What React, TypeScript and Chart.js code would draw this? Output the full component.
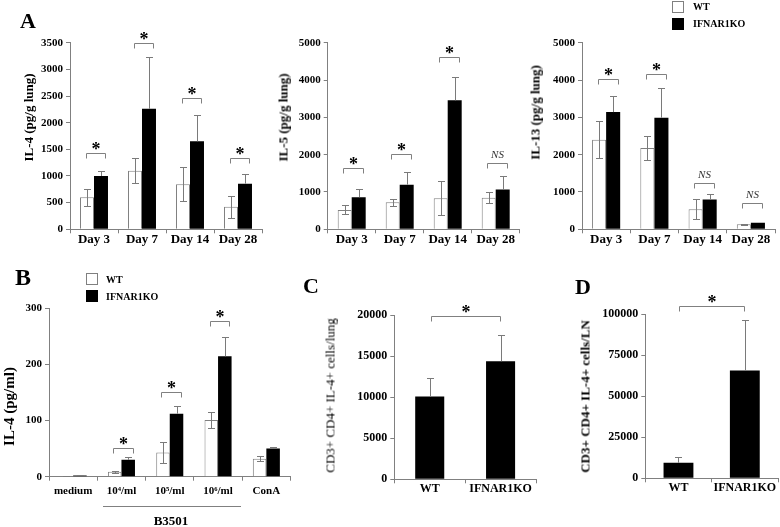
import React, { useEffect, useRef } from 'react';
import { Chart, registerables } from 'chart.js';

Chart.register(...registerables);

const FONT = "'Liberation Serif', 'Times New Roman', serif";
const AXIS = '#808080';
const ERRC = '#7a7a7a';
const W = 780;
const H = 527;

// ---------- Panel A ----------
const dayLabels = ['Day 3', 'Day 7', 'Day 14', 'Day 28'];

const il4WT = [600, 1100, 845, 425];
const il4WTErr = [165, 230, 320, 205];
const il4KO = [1000, 2260, 1650, 856];
const il4KOErr = [85, 975, 490, 175];
const il4Sig = ['*', '*', '*', '*'];
const il4SigAt = [1440, 3500, 2460, 1330];
const il4Max = 3500;
const il4Step = 500;

const il5WT = [518, 723, 830, 848];
const il5WTErr = [120, 90, 460, 145];
const il5KO = [860, 1196, 3455, 1065];
const il5KOErr = [210, 340, 625, 350];
const il5Sig = ['*', '*', '*', 'NS'];
const il5SigAt = [1650, 2030, 4610, 1770];
const il5Max = 5000;
const il5Step = 1000;

const il13WT = [2400, 2180, 536, 135];
const il13WTErr = [490, 330, 270, 20];
const il13KO = [3140, 2990, 800, 175];
const il13KOErr = [440, 790, 135, 0];
const il13Sig = ['*', '*', 'NS', 'NS'];
const il13SigAt = [4020, 4160, 1230, 700];
const il13Max = 5000;
const il13Step = 1000;

// ---------- Panel B ----------
const bLabels = ['medium', '10\u2074/ml', '10\u2075/ml', '10\u2076/ml', 'ConA'];
const bWT = [1, 9, 43, 101, 32];
const bWTErr = [0.5, 2, 19, 14, 4];
const bKO = [2, 30, 112, 214, 50];
const bKOErr = [0.5, 5, 13, 35, 3];
const bSig = ['', '*', '*', '*', ''];
const bSigAt = [0, 51, 150, 276, 0];
const bMax = 300;
const bStep = 100;

// ---------- Panel C ----------
const cLabels = ['WT', 'IFNAR1KO'];
const cVals = [10100, 14400];
const cErr = [2300, 3150];
const cSig = '*';
const cSigAt = 19900;
const cMax = 20000;
const cStep = 5000;

// ---------- Panel D ----------
const dLabels = ['WT', 'IFNAR1KO'];
const dVals = [9500, 65800];
const dErr = [3700, 30700];
const dSig = '*';
const dSigAt = 105000;
const dMax = 100000;
const dStep = 25000;

type Area = { l: number; t: number; r: number; b: number };

const annotPlugin = {
  id: 'annot',
  afterDatasetsDraw(chart: any) {
    const opts = chart.options.plugins.annot;
    if (!opts) return;
    const ctx = chart.ctx;
    const ys = chart.scales.y;
    ctx.save();
    ctx.lineWidth = 1;
    // error bars
    chart.data.datasets.forEach((ds: any, i: number) => {
      const meta = chart.getDatasetMeta(i);
      meta.data.forEach((bar: any, j: number) => {
        const v = ds.data[j];
        const e = ds.err ? ds.err[j] : 0;
        if (!e) return;
        const x = Math.round(bar.x) + 0.5;
        const top = Math.round(ys.getPixelForValue(v + e)) + 0.5;
        const bot = ds.lowerWhisker
          ? Math.round(ys.getPixelForValue(Math.max(0, v - e))) + 0.5
          : ys.getPixelForValue(v);
        const cw = opts.capW / 2;
        ctx.strokeStyle = ERRC;
        ctx.beginPath();
        ctx.moveTo(x, top);
        ctx.lineTo(x, bot);
        ctx.moveTo(x - cw, top);
        ctx.lineTo(x + cw, top);
        if (ds.lowerWhisker) {
          ctx.moveTo(x - cw, bot);
          ctx.lineTo(x + cw, bot);
        }
        ctx.stroke();
      });
    });
    // brackets
    const drawBracket = (x1: number, x2: number, yv: number, label: string) => {
      const y = Math.round(ys.getPixelForValue(yv)) + 0.5;
      const a = Math.round(x1) + 0.5;
      const b = Math.round(x2) + 0.5;
      ctx.strokeStyle = AXIS;
      ctx.beginPath();
      ctx.moveTo(a, y + 5);
      ctx.lineTo(a, y);
      ctx.lineTo(b, y);
      ctx.lineTo(b, y + 5);
      ctx.stroke();
      ctx.fillStyle = '#000';
      ctx.textAlign = 'center';
      ctx.textBaseline = 'alphabetic';
      const cx = (a + b) / 2;
      if (label === 'NS') {
        ctx.font = `italic 11px ${FONT}`;
        ctx.fillStyle = '#333';
        ctx.fillText('NS', cx, y - 6);
      } else if (label) {
        ctx.font = `bold 18px ${FONT}`;
        ctx.fillText(label, cx, y + opts.starDy);
      }
    };
    if (opts.mode === 'pair') {
      const m0 = chart.getDatasetMeta(0);
      const m1 = chart.getDatasetMeta(1);
      opts.sig.forEach((s: string, i: number) => {
        if (!s) return;
        drawBracket(m0.data[i].x - 1.5, m1.data[i].x + 4.5, opts.at[i], s);
      });
    } else {
      const m0 = chart.getDatasetMeta(0);
      drawBracket(m0.data[0].x + 1, m0.data[1].x - 1, opts.at, opts.sig);
    }
    ctx.restore();
  },
};

type Spec = {
  labels: string[];
  datasets: any[];
  area: Area;
  yMax: number;
  yStep: number;
  yw: number;
  xh: number;
  xFont: number;
  xPad: number;
  yFont: number;
  catPct: number;
  annot: any;
};

function makeConfig(p: Spec): any {
  const gridOpts = {
    display: true,
    drawOnChartArea: false,
    drawTicks: true,
    tickLength: 4,
    color: AXIS,
    lineWidth: 1,
  };
  return {
    type: 'bar',
    data: { labels: p.labels, datasets: p.datasets },
    plugins: [annotPlugin],
    options: {
      animation: false,
      responsive: false,
      events: [],
      layout: {
        padding: {
          left: p.area.l - p.yw,
          top: p.area.t,
          right: W - p.area.r,
          bottom: H - p.area.b - p.xh,
        },
      },
      datasets: { bar: { categoryPercentage: p.catPct, barPercentage: 1 } },
      plugins: {
        legend: { display: false },
        tooltip: { enabled: false },
        annot: p.annot,
      },
      scales: {
        x: {
          grid: { ...gridOpts, offset: true },
          border: { display: true, color: AXIS, width: 1 },
          ticks: {
            color: '#000',
            font: { family: FONT, weight: 'bold', size: p.xFont, lineHeight: 1 },
            padding: p.xPad,
            maxRotation: 0,
            autoSkip: false,
          },
          afterFit: (s: any) => {
            s.height = p.xh;
          },
        },
        y: {
          min: 0,
          max: p.yMax,
          grid: gridOpts,
          border: { display: true, color: AXIS, width: 1 },
          ticks: {
            stepSize: p.yStep,
            color: '#000',
            font: { family: FONT, weight: 'bold', size: p.yFont },
            padding: 3,
            callback: (v: any) => String(v),
          },
          afterFit: (s: any) => {
            s.width = p.yw;
          },
        },
      },
    },
  };
}

function pairSets(wt: number[], wtErr: number[], ko: number[], koErr: number[]) {
  return [
    {
      label: 'WT',
      data: wt,
      err: wtErr,
      lowerWhisker: true,
      backgroundColor: '#ffffff',
      borderColor: AXIS,
      borderWidth: 1,
      borderSkipped: 'bottom',
    },
    {
      label: 'IFNAR1KO',
      data: ko,
      err: koErr,
      lowerWhisker: false,
      backgroundColor: '#000000',
      borderColor: '#000000',
      borderWidth: 0,
    },
  ];
}

function singleSet(vals: number[], err: number[]) {
  return [
    {
      label: 'cells',
      data: vals,
      err,
      lowerWhisker: false,
      backgroundColor: '#000000',
      borderColor: '#000000',
      borderWidth: 0,
    },
  ];
}

const specs: Spec[] = [
  {
    labels: dayLabels,
    datasets: pairSets(il4WT, il4WTErr, il4KO, il4KOErr),
    area: { l: 70, t: 42.7, r: 262, b: 229.3 },
    yMax: il4Max, yStep: il4Step, yw: 40, xh: 22, xFont: 13, xPad: 0, yFont: 11,
    catPct: 0.583,
    annot: { mode: 'pair', sig: il4Sig, at: il4SigAt, capW: 7, starDy: 1 },
  },
  {
    labels: dayLabels,
    datasets: pairSets(il5WT, il5WTErr, il5KO, il5KOErr),
    area: { l: 327.7, t: 42.7, r: 519.7, b: 229.3 },
    yMax: il5Max, yStep: il5Step, yw: 40, xh: 22, xFont: 13, xPad: 0, yFont: 11,
    catPct: 0.583,
    annot: { mode: 'pair', sig: il5Sig, at: il5SigAt, capW: 7, starDy: 1 },
  },
  {
    labels: dayLabels,
    datasets: pairSets(il13WT, il13WTErr, il13KO, il13KOErr),
    area: { l: 582, t: 42.7, r: 775, b: 229.3 },
    yMax: il13Max, yStep: il13Step, yw: 40, xh: 22, xFont: 13, xPad: 0, yFont: 11,
    catPct: 0.583,
    annot: { mode: 'pair', sig: il13Sig, at: il13SigAt, capW: 7, starDy: 1 },
  },
  {
    labels: bLabels,
    datasets: pairSets(bWT, bWTErr, bKO, bKOErr),
    area: { l: 49, t: 308, r: 290.5, b: 476.7 },
    yMax: bMax, yStep: bStep, yw: 40, xh: 26, xFont: 11, xPad: 5, yFont: 11,
    catPct: 0.56,
    annot: { mode: 'pair', sig: bSig, at: bSigAt, capW: 7, starDy: 1 },
  },
  {
    labels: cLabels,
    datasets: singleSet(cVals, cErr),
    area: { l: 394.3, t: 315.3, r: 536, b: 479.3 },
    yMax: cMax, yStep: cStep, yw: 44, xh: 24, xFont: 12, xPad: 0, yFont: 12,
    catPct: 0.41,
    annot: { mode: 'across', sig: cSig, at: cSigAt, capW: 7, starDy: 1 },
  },
  {
    labels: dLabels,
    datasets: singleSet(dVals, dErr),
    area: { l: 645.3, t: 314.3, r: 778, b: 478.3 },
    yMax: dMax, yStep: dStep, yw: 50, xh: 24, xFont: 12, xPad: 0, yFont: 12,
    catPct: 0.45,
    annot: { mode: 'across', sig: dSig, at: dSigAt, capW: 7, starDy: 1 },
  },
];

function ChartCanvas({ spec }: { spec: Spec }) {
  const ref = useRef<HTMLCanvasElement | null>(null);
  useEffect(() => {
    if (!ref.current) return;
    const chart = new Chart(ref.current, makeConfig(spec));
    return () => chart.destroy();
  }, [spec]);
  return (
    <canvas
      ref={ref}
      width={W}
      height={H}
      style={{ position: 'absolute', left: 0, top: 0, width: W, height: H }}
    />
  );
}

function Txt(props: {
  x: number; y: number; text: string; size: number;
  weight?: string; italic?: boolean; align?: 'left' | 'center';
}) {
  const { x, y, text, size, weight = 'bold', italic = false, align = 'center' } = props;
  const w = 300;
  return (
    <div
      style={{
        position: 'absolute',
        left: align === 'center' ? x - w / 2 : x,
        top: y - size / 2,
        width: w,
        height: size,
        lineHeight: `${size}px`,
        fontSize: size,
        fontFamily: FONT,
        fontWeight: weight as any,
        fontStyle: italic ? 'italic' : 'normal',
        textAlign: align,
        whiteSpace: 'nowrap',
        color: '#000',
      }}
    >
      {text}
    </div>
  );
}

function VTitle(props: { cx: number; cy: number; text: string; size: number; weight?: string }) {
  const { cx, cy, text, size, weight = 'bold' } = props;
  const w = 300;
  return (
    <div
      style={{
        position: 'absolute',
        left: cx - w / 2,
        top: cy - size / 2,
        width: w,
        height: size,
        lineHeight: `${size}px`,
        fontSize: size,
        fontFamily: FONT,
        fontWeight: weight as any,
        textAlign: 'center',
        whiteSpace: 'nowrap',
        transform: 'rotate(-90deg)',
        transformOrigin: '50% 50%',
        color: '#000',
      }}
    >
      {text}
    </div>
  );
}

function Box({ x, y, filled }: { x: number; y: number; filled: boolean }) {
  return (
    <div
      style={{
        position: 'absolute',
        left: x,
        top: y,
        width: 12,
        height: 12,
        boxSizing: 'border-box',
        background: filled ? '#000' : '#fff',
        border: `1px solid ${filled ? '#000' : AXIS}`,
      }}
    />
  );
}

export default function App() {
  return (
    <div
      style={{
        position: 'absolute',
        left: 0,
        top: 0,
        width: W,
        height: H,
        background: '#fff',
        overflow: 'hidden',
      }}
    >
      {specs.map((s, i) => (
        <ChartCanvas key={i} spec={s} />
      ))}

      {/* panel letters */}
      <Txt x={28} y={21} text="A" size={22} />
      <Txt x={23} y={277} text="B" size={24} />
      <Txt x={311} y={286} text="C" size={22} />
      <Txt x={583} y={287} text="D" size={22} />

      {/* axis titles */}
      <VTitle cx={27.5} cy={117} text="IL-4 (pg/g lung)" size={13} />
      <VTitle cx={282.5} cy={117.5} text="IL-5 (pg/g lung)" size={13} />
      <VTitle cx={535} cy={112} text="IL-13 (pg/g lung)" size={13} />
      <VTitle cx={9} cy={406} text="IL-4 (pg/ml)" size={15} />
      <VTitle cx={330} cy={395} text="CD3+ CD4+ IL-4+ cells/lung" size={13} weight="normal" />
      <VTitle cx={585} cy={396} text="CD3+ CD4+ IL-4+ cells/LN" size={13} />

      {/* legend A */}
      <Box x={672} y={1} filled={false} />
      <Txt x={693} y={7} text="WT" size={10} align="left" />
      <Box x={672} y={18} filled={true} />
      <Txt x={693} y={24} text="IFNAR1KO" size={10} align="left" />

      {/* legend B */}
      <Box x={86} y={273} filled={false} />
      <Txt x={106} y={279.5} text="WT" size={10} align="left" />
      <Box x={86} y={290} filled={true} />
      <Txt x={106} y={296.5} text="IFNAR1KO" size={10} align="left" />

      {/* B3501 grouping */}
      <div
        style={{
          position: 'absolute',
          left: 103,
          top: 506,
          width: 138,
          height: 0,
          borderTop: `1px solid ${AXIS}`,
        }}
      />
      <Txt x={171} y={520} text="B3501" size={13} />
    </div>
  );
}
